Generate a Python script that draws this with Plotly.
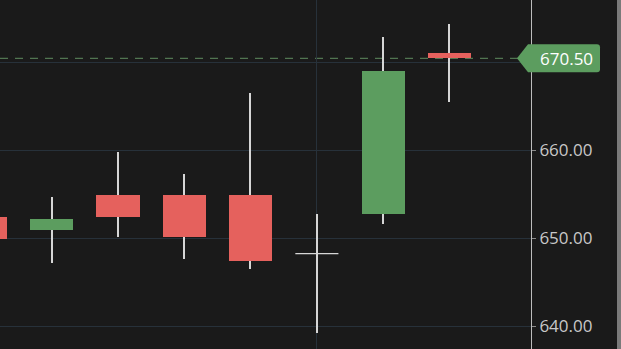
import plotly.graph_objects as go

# ---- data ----
idx = [0, 1, 2, 3, 4, 5, 6, 7]
open_ = [652.39, 650.91, 654.93, 654.93, 654.93, 648.25, 652.73, 671.05]
close = [649.89, 652.20, 652.39, 650.18, 647.41, 648.25, 669.09, 670.50]
high = [653.60, 654.74, 659.86, 657.29, 666.51, 652.77, 672.89, 674.41]
low = [648.20, 647.15, 650.18, 647.61, 646.47, 639.18, 651.59, 665.56]
last_price = 670.50
y_ticks = [640, 650, 660, 670]
y_tick_text = ["640.00", "650.00", "660.00", ""]

# ---- styles ----
BG = "#1a1a1a"
GRID = "#27313a"
UP = "#5c9d5f"
DOWN = "#e5615d"
WICK = "#d6d6d6"
BODY_W = 0.65

fig = go.Figure()

# wicks (as thin bars so bodies sit on top)
fig.add_trace(go.Bar(
    x=idx, base=low, y=[h - l for h, l in zip(high, low)],
    width=0.02, marker=dict(color=WICK, line=dict(width=0)),
    hoverinfo="skip", showlegend=False))

# bodies
body_base = [min(o, c) for o, c in zip(open_, close)]
body_h = [abs(c - o) for o, c in zip(open_, close)]
colors = [UP if c > o else DOWN for o, c in zip(open_, close)]
fig.add_trace(go.Bar(
    x=idx, base=body_base, y=body_h, width=BODY_W,
    marker=dict(color=colors, line=dict(width=0)),
    showlegend=False))

# doji ticks
dx, dy = [], []
for i, o, c in zip(idx, open_, close):
    if o == c:
        dx += [i - BODY_W / 2, i + BODY_W / 2, None]
        dy += [o, o, None]
fig.add_trace(go.Scatter(x=dx, y=dy, mode="lines",
                         line=dict(color=WICK, width=1.3),
                         hoverinfo="skip", showlegend=False))

# last price dashed line
fig.add_shape(type="line", xref="paper", x0=0, x1=1, yref="y",
              y0=last_price, y1=last_price,
              line=dict(color="#5f8c60", width=1, dash="8px,7px"), layer="below")

# price tag
fig.add_shape(type="path", xref="paper", yref="y",
              xsizemode="pixel", ysizemode="pixel",
              xanchor=1, yanchor=last_price,
              path="M -14,0 L -3,14 L 66,14 Q 69,14 69,11 L 69,-11 Q 69,-14 66,-14 L -3,-14 Z",
              fillcolor=UP, line=dict(width=0), layer="above")
fig.add_annotation(xref="paper", x=1, yref="y", y=last_price,
                   text=f"{last_price:.2f}", showarrow=False,
                   xanchor="left", xshift=7, yshift=0,
                   font=dict(family="Open Sans", size=17, color="#ffffff"))

# right edge strip
fig.add_shape(type="rect", xref="paper", yref="paper",
              xsizemode="pixel", xanchor=1, x0=86, x1=90, y0=0, y1=1,
              fillcolor="#7a7a7a", line=dict(width=0), layer="above")

fig.update_layout(
    width=621, height=349,
    margin=dict(l=0, r=90, t=0, b=0),
    paper_bgcolor=BG, plot_bgcolor=BG,
    barmode="overlay", bargap=0,
    showlegend=False,
    xaxis=dict(range=[0.22, 8.23], tick0=0, dtick=5, showticklabels=False,
               showgrid=True, gridcolor=GRID, gridwidth=1, zeroline=False,
               showline=False, ticks=""),
    yaxis=dict(side="right", range=[637.39, 677.14], tickvals=y_ticks,
               ticktext=y_tick_text, showgrid=True, gridcolor=GRID, gridwidth=1,
               zeroline=False, showline=True, linecolor="#bdbdbd", linewidth=1,
               ticks="outside", ticklen=4, tickcolor="#8a8a8a",
               tickfont=dict(family="Open Sans", size=17, color="#c8c8c8")),
)

fig.write_html("out.html")
